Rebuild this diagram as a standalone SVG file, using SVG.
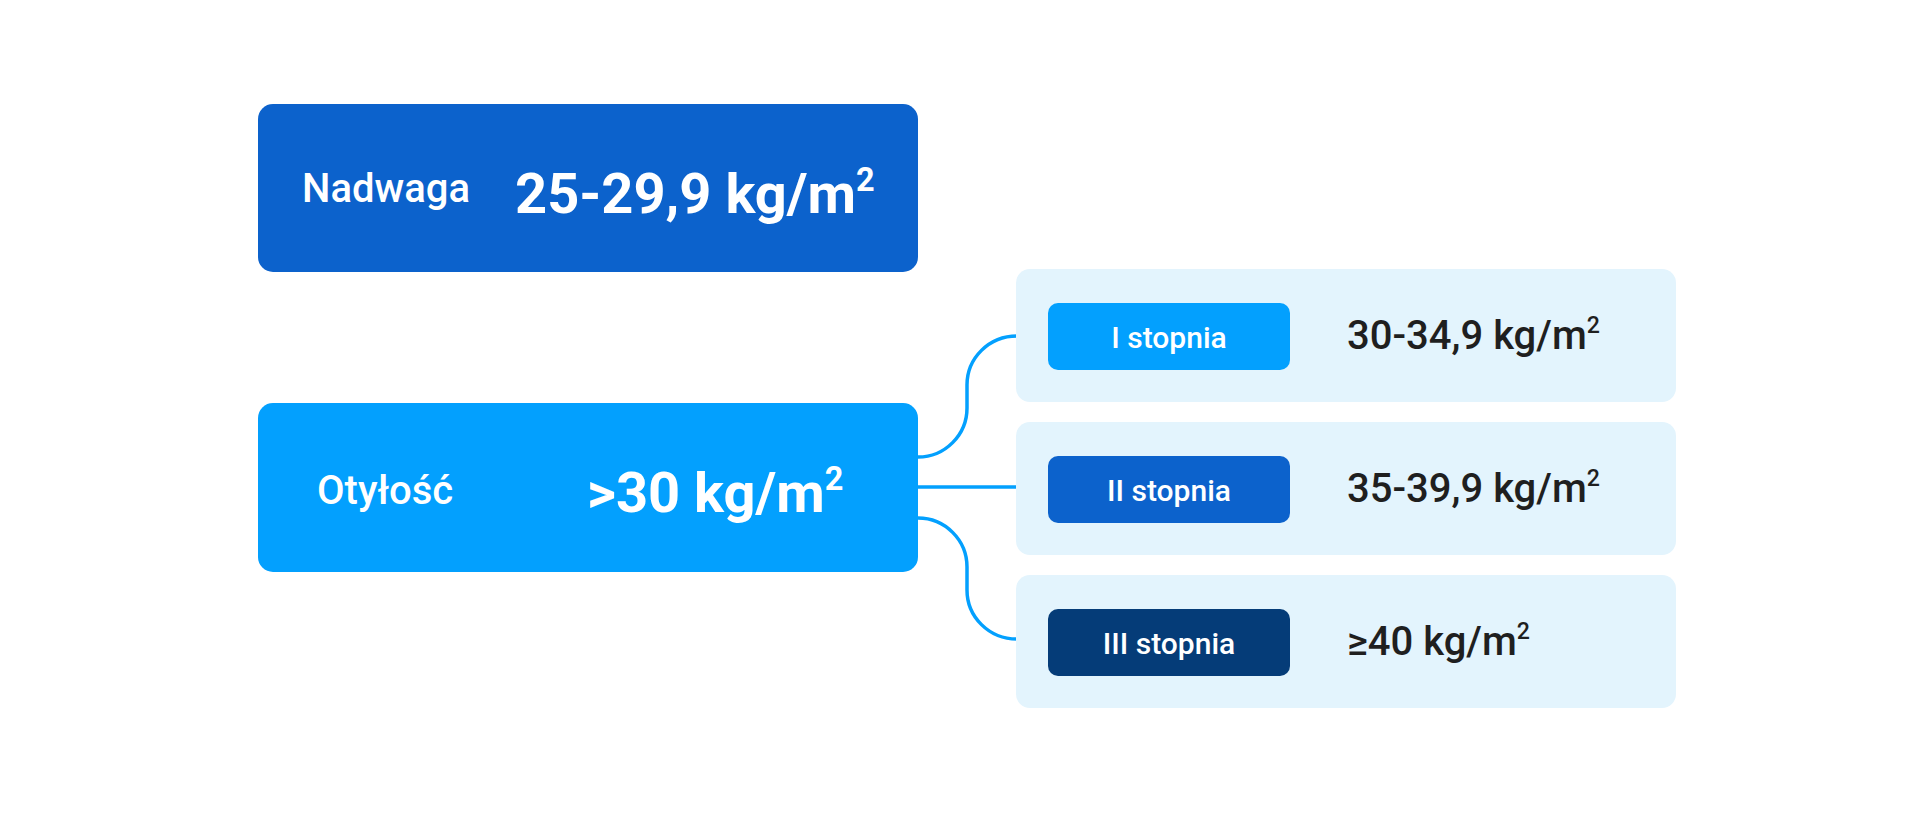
<svg xmlns="http://www.w3.org/2000/svg" width="1920" height="834" viewBox="0 0 1920 834">
<style>
.t{font-family:Roboto,"Liberation Sans",sans-serif;}
.lbl{fill:#ffffff;font-size:40px;font-weight:500;}
.big{fill:#ffffff;font-size:56px;font-weight:700;}
.badge{fill:#ffffff;font-size:30px;font-weight:500;}
.val{fill:#1f1f1f;font-size:40px;font-weight:500;}
.sup{font-size:0.58em;}
.panel{fill:#e3f4fd;}
.con{fill:none;stroke:#03a0fe;stroke-width:3.5;}
</style>
<rect width="1920" height="834" fill="#ffffff"/>
<g id="nadwaga">
<rect x="258" y="104" width="660" height="168" rx="15" fill="#0c62cc"/>
<text class="t lbl" x="302" y="202">Nadwaga</text>
<text class="t big" x="515" y="213">25-29,9 kg/m<tspan class="sup" dy="-22">2</tspan></text>
</g>
<g id="otylosc">
<rect x="258" y="403" width="660" height="169" rx="15" fill="#03a0fe"/>
<text class="t lbl" x="317" y="504">Otyłość</text>
<text class="t big" x="587" y="512">&gt;30 kg/m<tspan class="sup" dy="-22">2</tspan></text>
</g>
<g id="connectors">
<path class="con" d="M918,457 C945,457 967,435 967,408 L967,385 C967,358 989,336 1017,336"/>
<path class="con" d="M918,487 L1017,487"/>
<path class="con" d="M918,518 C945,518 967,540 967,567 L967,590 C967,617 989,639 1017,639"/>
</g>
<g id="stopien1">
<rect class="panel" x="1016" y="269" width="660" height="133" rx="14"/>
<rect x="1048" y="303" width="242" height="67" rx="10" fill="#03a0fe"/>
<text class="t badge" x="1169" y="348" text-anchor="middle">I stopnia</text>
<text class="t val" x="1347" y="349">30-34,9 kg/m<tspan class="sup" dy="-16">2</tspan></text>
</g>
<g id="stopien2">
<rect class="panel" x="1016" y="422" width="660" height="133" rx="14"/>
<rect x="1048" y="456" width="242" height="67" rx="10" fill="#0c62cc"/>
<text class="t badge" x="1169" y="501" text-anchor="middle">II stopnia</text>
<text class="t val" x="1347" y="502">35-39,9 kg/m<tspan class="sup" dy="-16">2</tspan></text>
</g>
<g id="stopien3">
<rect class="panel" x="1016" y="575" width="660" height="133" rx="14"/>
<rect x="1048" y="609" width="242" height="67" rx="10" fill="#053c78"/>
<text class="t badge" x="1169" y="654" text-anchor="middle">III stopnia</text>
<text class="t val" x="1347" y="655">≥40 kg/m<tspan class="sup" dy="-16">2</tspan></text>
</g>
</svg>
